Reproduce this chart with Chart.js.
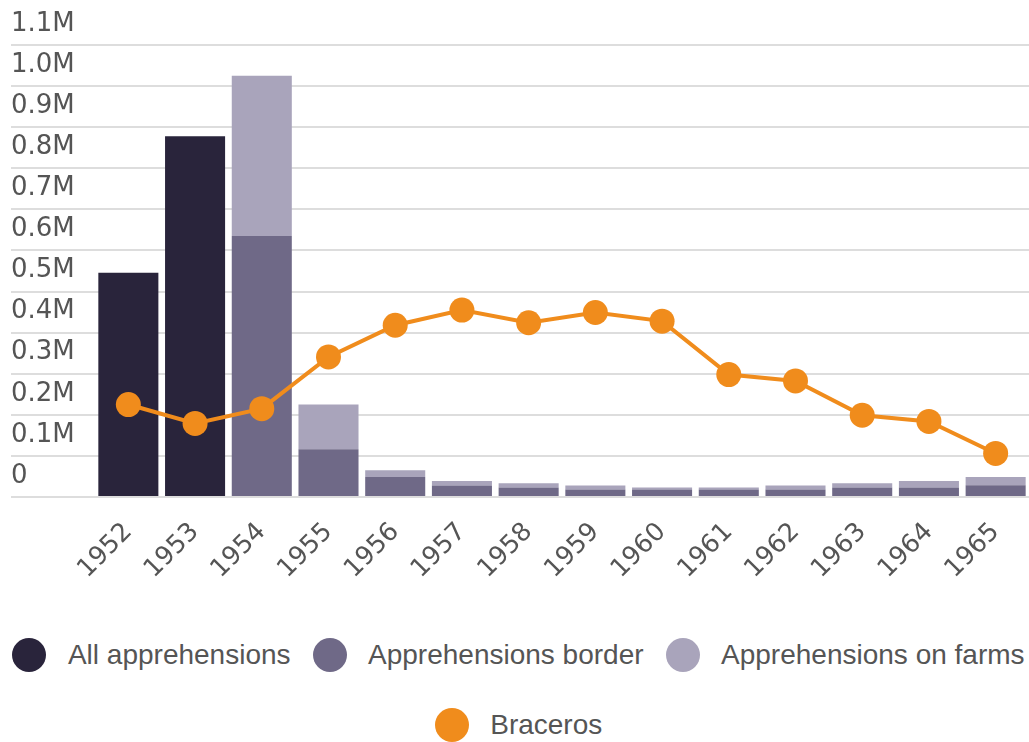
<!DOCTYPE html>
<html>
<head>
<meta charset="utf-8">
<script src="https://cdn.jsdelivr.net/npm/chart.js@4/dist/chart.umd.min.js"></script>
<style>
  html, body { margin: 0; padding: 0; background: #fff; }
  #wrap { position: relative; width: 1029px; height: 742px; overflow: hidden; }
  #cbox { position: absolute; left: 0; top: 0; width: 1029px; height: 600px; }
  #legend {
    position: absolute; left: 0; top: 638px; width: 1021px; padding-left: 8px;
    display: flex; flex-wrap: wrap; justify-content: center; row-gap: 36px; column-gap: 22px;
    font-family: 'Liberation Sans', Arial, sans-serif; font-size: 28px; color: #555;
  }
  .item { display: flex; align-items: center; height: 34px; white-space: nowrap; }
  .dot { width: 34px; height: 34px; border-radius: 50%; margin-right: 21.5px; flex: none; }
</style>
</head>
<body>
<div id="wrap">
  <div id="cbox"><canvas id="c"></canvas></div>
  <div id="legend"></div>
</div>
<script>
const years = ['1952','1953','1954','1955','1956','1957','1958','1959','1960','1961','1962','1963','1964','1965'];
const allApprehensions = [546000, 878000, null, null, null, null, null, null, null, null, null, null, null, null];
const apprehensionsBorder = [null, null, 635000, 116000, 48700, 27700, 22900, 18000, 18000, 18000, 18000, 22900, 22900, 28500];
const apprehensionsFarms = [null, null, 390000, 109000, 16300, 11300, 10500, 9700, 4900, 4900, 9700, 10500, 16100, 20200];
const braceros = [225000, 179000, 215000, 341000, 418000, 455000, 424000, 449000, 428000, 298000, 282500, 199000, 184000, 106000];
const yTickLabels = ['0','0.1M','0.2M','0.3M','0.4M','0.5M','0.6M','0.7M','0.8M','0.9M','1.0M','1.1M'];

const tickFont = { family: "'DejaVu Sans', sans-serif", size: 26 };
const textColor = '#555555';
const gridColor = '#dddddd';

const chart = new Chart(document.getElementById('c'), {
  data: {
    labels: years,
    datasets: [
      { type: 'bar', label: 'All apprehensions', data: allApprehensions, backgroundColor: '#29243b', stack: 'bars', order: 1 },
      { type: 'bar', label: 'Apprehensions border', data: apprehensionsBorder, backgroundColor: '#6f6987', stack: 'bars', order: 1 },
      { type: 'bar', label: 'Apprehensions on farms', data: apprehensionsFarms, backgroundColor: '#a9a4bb', stack: 'bars', order: 1 },
      { type: 'line', label: 'Braceros', data: braceros, borderColor: '#f08c1c', backgroundColor: '#f08c1c',
        borderWidth: 4, pointRadius: 12.5, pointHoverRadius: 12.5, pointBorderWidth: 0, tension: 0, stack: 'line', order: 0, clip: false }
    ]
  },
  options: {
    responsive: true,
    maintainAspectRatio: false,
    animation: false,
    layout: { autoPadding: false, padding: { top: 45, left: 11, right: 0, bottom: 0 } },
    datasets: { bar: { categoryPercentage: 1, barPercentage: 0.9 } },
    plugins: { legend: { display: false }, tooltip: { enabled: false } },
    scales: {
      x: {
        stacked: true,
        offset: true,
        grid: { display: false, drawTicks: false },
        border: { display: false },
        ticks: { font: { family: "'DejaVu Sans', sans-serif", size: 25.5 }, color: textColor, minRotation: 45, maxRotation: 45, autoSkip: false, padding: 20 },
        afterFit: (s) => { s.height = 103; s.paddingRight = 0; s.paddingLeft = 0; }
      },
      y: {
        stacked: true,
        min: 0,
        max: 1100000,
        grid: { color: gridColor, lineWidth: 2, tickLength: 84, tickColor: gridColor, drawTicks: true },
        border: { display: false },
        ticks: {
          stepSize: 100000,
          font: tickFont,
          color: textColor,
          crossAlign: 'far',
          labelOffset: -21,
          padding: 0,
          callback: (v, i) => yTickLabels[i]
        },
        afterFit: (s) => { s.width = 84; }
      }
    }
  }
});

// HTML legend built from the chart's datasets
const legendEl = document.getElementById('legend');
chart.data.datasets.forEach(ds => {
  const item = document.createElement('div');
  item.className = 'item';
  const dot = document.createElement('span');
  dot.className = 'dot';
  dot.style.background = ds.backgroundColor;
  const txt = document.createElement('span');
  txt.textContent = ds.label;
  item.appendChild(dot);
  item.appendChild(txt);
  legendEl.appendChild(item);
});
</script>
</body>
</html>
